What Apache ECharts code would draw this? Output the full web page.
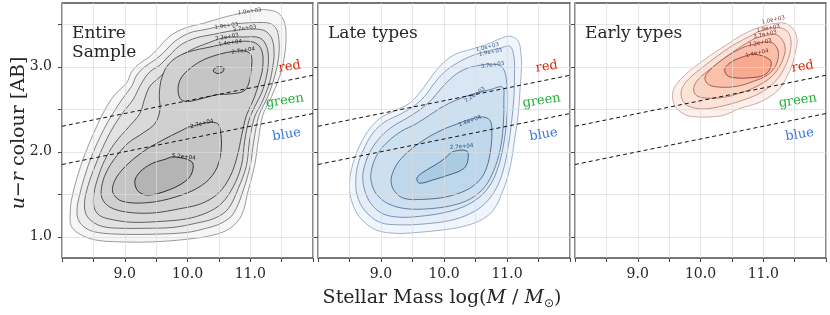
<!DOCTYPE html>
<html><head><meta charset="utf-8">
<script src="https://cdn.jsdelivr.net/npm/echarts@6/dist/echarts.min.js"></script>
<style>html,body{margin:0;padding:0;background:#fff}#c{width:830px;height:315px}</style>
</head><body><div id="c"></div>
<script>
// ---------- axes / ticks ----------
const xTickLabels = [9, 10, 11];
const yTickLabels = [1, 2, 3];
const yGridValues = [1, 1.5, 2, 2.5, 3, 3.5];
const panelTitles = ['Entire\nSample', 'Late types', 'Early types'];

// ---------- colour-zone dividing lines ----------
const dividerX = [8, 12];
const upperDivider = [2.30, 2.90];
const lowerDivider = [1.85, 2.45];
const zoneNames = ['red', 'green', 'blue'];
const zoneX = [11.63, 11.55, 11.58];
const zoneY = [3.0, 2.6, 2.2];

// ---------- contour levels ----------
const levelNames = ['1.0e+03', '1.9e+03', '3.7e+03', '7.2e+03', '1.4e+04', '2.7e+04', '5.2e+04'];

// ---------- Entire sample contours ----------
const entireL1 = [[8.84,2.67],[9.03,2.81],[9.11,2.94],[9.24,3.04],[9.40,3.12],[9.51,3.20],[9.72,3.36],[9.98,3.46],[10.25,3.51],[10.52,3.57],[10.73,3.61],[11.05,3.66],[11.26,3.67],[11.45,3.63],[11.55,3.51],[11.57,3.32],[11.54,3.10],[11.47,2.89],[11.34,2.65],[11.20,2.43],[11.13,2.14],[11.07,1.84],[10.97,1.55],[10.86,1.25],[10.68,1.10],[10.41,1.02],[9.98,0.97],[9.45,0.94],[8.92,0.94],[8.55,0.96],[8.31,1.02],[8.15,1.12],[8.13,1.27],[8.15,1.43],[8.23,1.67],[8.37,1.98],[8.53,2.26],[8.68,2.49]];
const entireL2 = [[8.97,2.63],[9.11,2.77],[9.19,2.90],[9.32,3.00],[9.48,3.08],[9.61,3.16],[9.80,3.30],[10.04,3.40],[10.30,3.44],[10.54,3.48],[10.84,3.51],[11.10,3.52],[11.31,3.51],[11.42,3.44],[11.46,3.28],[11.45,3.10],[11.39,2.89],[11.28,2.65],[11.14,2.43],[11.06,2.14],[11.00,1.84],[10.89,1.55],[10.73,1.27],[10.54,1.16],[10.30,1.10],[9.98,1.05],[9.45,1.03],[8.92,1.03],[8.57,1.05],[8.38,1.10],[8.26,1.20],[8.24,1.33],[8.28,1.49],[8.36,1.71],[8.49,1.98],[8.65,2.24],[8.81,2.45]];
const entireL3 = [[9.13,2.61],[9.27,2.81],[9.40,2.94],[9.56,3.02],[9.72,3.14],[9.90,3.26],[10.14,3.34],[10.41,3.38],[10.68,3.42],[10.94,3.44],[11.21,3.43],[11.34,3.34],[11.38,3.16],[11.35,2.96],[11.29,2.77],[11.18,2.57],[11.07,2.41],[10.99,2.14],[10.94,1.84],[10.81,1.57],[10.65,1.33],[10.44,1.22],[10.14,1.16],[9.77,1.11],[9.35,1.10],[8.92,1.10],[8.65,1.12],[8.48,1.18],[8.38,1.27],[8.36,1.41],[8.41,1.59],[8.52,1.82],[8.68,2.10],[8.84,2.32],[9.00,2.49]];
const entireL4 = [[9.32,2.63],[9.40,2.77],[9.56,2.88],[9.69,2.98],[9.85,3.10],[10.06,3.20],[10.33,3.28],[10.57,3.34],[10.89,3.35],[11.15,3.34],[11.26,3.24],[11.29,3.08],[11.26,2.89],[11.18,2.69],[11.07,2.53],[10.98,2.37],[10.91,2.12],[10.86,1.84],[10.73,1.59],[10.54,1.39],[10.30,1.28],[9.98,1.21],[9.56,1.18],[9.13,1.17],[8.81,1.20],[8.60,1.25],[8.51,1.35],[8.51,1.51],[8.57,1.69],[8.68,1.90],[8.84,2.10],[9.05,2.28],[9.24,2.45]];
const entireL5 = [[9.55,2.67],[9.59,2.87],[9.71,3.04],[9.96,3.16],[10.41,3.24],[10.73,3.29],[11.05,3.29],[11.18,3.20],[11.20,3.00],[11.14,2.81],[11.05,2.61],[10.94,2.43],[10.86,2.18],[10.79,1.94],[10.68,1.71],[10.49,1.51],[10.22,1.39],[9.88,1.33],[9.45,1.28],[9.03,1.29],[8.76,1.35],[8.64,1.45],[8.63,1.58],[8.70,1.75],[8.84,1.92],[9.05,2.10],[9.29,2.22],[9.48,2.33],[9.56,2.49]];
const entireL6a = [[9.88,2.63],[9.85,2.75],[9.90,2.87],[10.04,2.98],[10.25,3.08],[10.52,3.15],[10.73,3.18],[10.94,3.18],[11.02,3.12],[11.01,2.94],[10.97,2.79],[10.89,2.71],[10.68,2.68],[10.46,2.67],[10.20,2.62],[9.98,2.59]];
const entireL6b = [[10.06,2.30],[10.46,2.34],[10.53,2.22],[10.53,1.98],[10.44,1.77],[10.22,1.60],[9.82,1.47],[9.35,1.40],[8.95,1.42],[8.81,1.52],[8.84,1.66],[9.00,1.82],[9.29,2.00],[9.61,2.14],[9.88,2.24]];
const entireL7a = [[10.41,2.95],[10.45,2.99],[10.53,3.00],[10.58,2.98],[10.56,2.94],[10.49,2.92],[10.44,2.93]];
const entireL7b = [[9.78,1.94],[10.07,1.88],[10.07,1.75],[9.96,1.65],[9.70,1.55],[9.38,1.49],[9.22,1.53],[9.16,1.65],[9.24,1.76],[9.43,1.86],[9.64,1.91]];
const entireContours = [[0, entireL1],[1, entireL2],[2, entireL3],[3, entireL4],[4, entireL5],[5, entireL6a],[5, entireL6b],[6, entireL7a],[6, entireL7b]];
const entireLabelLevels = [0, 1, 2, 3, 4, 5, 5, 6];
const entireLabelPos = [[10.99,3.65],[10.62,3.48],[10.91,3.45],[10.63,3.35],[10.68,3.28],[10.89,3.19],[10.23,2.33],[9.94,1.94]];

// ---------- Late types contours ----------
const lateL1 = [[11.05,3.36],[11.18,3.30],[11.22,3.16],[11.23,3.00],[11.21,2.77],[11.18,2.45],[11.12,2.14],[11.05,1.82],[10.94,1.55],[10.78,1.31],[10.57,1.19],[10.30,1.12],[9.98,1.08],[9.56,1.05],[9.24,1.04],[8.92,1.08],[8.66,1.23],[8.53,1.43],[8.50,1.63],[8.54,1.82],[8.63,2.02],[8.79,2.24],[8.98,2.39],[9.24,2.49],[9.45,2.57],[9.61,2.69],[9.75,2.83],[9.88,2.96],[10.04,3.08],[10.22,3.16],[10.41,3.20],[10.67,3.26],[10.89,3.33]];
const lateL2 = [[11.05,3.24],[11.11,3.12],[11.12,2.92],[11.11,2.65],[11.07,2.33],[11.02,2.06],[10.94,1.78],[10.83,1.57],[10.65,1.39],[10.41,1.27],[10.09,1.19],[9.67,1.15],[9.30,1.14],[8.98,1.17],[8.74,1.31],[8.62,1.49],[8.60,1.67],[8.63,1.84],[8.72,2.02],[8.87,2.22],[9.06,2.35],[9.30,2.44],[9.51,2.53],[9.69,2.65],[9.85,2.81],[10.01,2.94],[10.20,3.04],[10.41,3.12],[10.67,3.18],[10.89,3.22]];
const lateL3 = [[10.83,3.03],[10.94,2.98],[10.99,2.85],[11.01,2.61],[10.99,2.33],[10.94,2.06],[10.86,1.82],[10.75,1.63],[10.57,1.47],[10.30,1.35],[9.98,1.28],[9.61,1.24],[9.30,1.23],[9.03,1.27],[8.84,1.39],[8.74,1.55],[8.71,1.71],[8.75,1.86],[8.84,2.02],[9.00,2.18],[9.19,2.30],[9.40,2.39],[9.61,2.49],[9.80,2.61],[9.96,2.75],[10.12,2.87],[10.30,2.96],[10.51,3.01]];
const lateL4 = [[10.46,2.68],[10.73,2.73],[10.93,2.76],[10.95,2.61],[10.94,2.30],[10.89,2.02],[10.79,1.78],[10.65,1.59],[10.43,1.45],[10.14,1.37],[9.77,1.33],[9.40,1.33],[9.11,1.39],[8.92,1.51],[8.84,1.67],[8.86,1.82],[8.95,1.98],[9.11,2.12],[9.32,2.24],[9.56,2.33],[9.77,2.43],[9.98,2.53],[10.20,2.61]];
const lateL5 = [[10.36,2.37],[10.59,2.41],[10.73,2.37],[10.76,2.22],[10.74,2.02],[10.68,1.82],[10.57,1.67],[10.36,1.55],[10.04,1.47],[9.67,1.44],[9.37,1.45],[9.22,1.53],[9.16,1.65],[9.20,1.78],[9.32,1.92],[9.53,2.06],[9.77,2.18],[10.04,2.28],[10.22,2.33]];
const lateL6 = [[10.14,2.00],[10.36,2.01],[10.38,1.90],[10.31,1.80],[10.09,1.73],[9.83,1.67],[9.61,1.63],[9.57,1.69],[9.67,1.76],[9.85,1.84],[10.01,1.92]];
const lateContours = [[0, lateL1],[1, lateL2],[2, lateL3],[3, lateL4],[4, lateL5],[5, lateL6]];
const lateLabelLevels = [0, 1, 2, 3, 4, 5];
const lateLabelPos = [[10.69,3.23],[10.74,3.17],[10.77,3.02],[10.49,2.67],[10.41,2.36],[10.28,2.06]];

// ---------- Early types contours ----------
const earlyL1 = [[11.35,3.51],[11.48,3.44],[11.54,3.32],[11.51,3.16],[11.46,3.02],[11.38,2.89],[11.27,2.75],[11.11,2.65],[10.90,2.57],[10.63,2.51],[10.37,2.43],[10.15,2.41],[9.94,2.41],[9.78,2.43],[9.62,2.51],[9.56,2.61],[9.57,2.73],[9.68,2.85],[9.84,2.96],[10.02,3.06],[10.21,3.16],[10.42,3.26],[10.63,3.36],[10.85,3.44],[11.06,3.49],[11.19,3.51]];
const earlyL2 = [[11.24,3.46],[11.38,3.42],[11.44,3.32],[11.43,3.18],[11.37,3.04],[11.27,2.90],[11.14,2.79],[10.95,2.69],[10.69,2.61],[10.42,2.55],[10.15,2.51],[9.94,2.51],[9.78,2.55],[9.70,2.63],[9.70,2.73],[9.78,2.83],[9.94,2.94],[10.15,3.06],[10.37,3.18],[10.58,3.28],[10.79,3.36],[10.95,3.42]];
const earlyL3 = [[11.19,3.38],[11.30,3.32],[11.35,3.22],[11.32,3.10],[11.24,2.98],[11.11,2.87],[10.90,2.77],[10.63,2.69],[10.37,2.64],[10.10,2.63],[9.94,2.66],[9.89,2.73],[9.94,2.83],[10.10,2.94],[10.31,3.06],[10.53,3.18],[10.74,3.28],[10.90,3.34]];
const earlyL4 = [[11.11,3.29],[11.22,3.22],[11.24,3.12],[11.19,3.00],[11.06,2.90],[10.85,2.83],[10.58,2.77],[10.31,2.76],[10.13,2.79],[10.07,2.87],[10.15,2.96],[10.34,3.08],[10.55,3.18],[10.77,3.25]];
const earlyL5 = [[11.11,3.08],[11.11,2.98],[11.01,2.90],[10.79,2.87],[10.55,2.87],[10.42,2.90],[10.39,2.98],[10.50,3.06],[10.69,3.12],[10.85,3.15]];
const earlyContours = [[0, earlyL1],[1, earlyL2],[2, earlyL3],[3, earlyL4],[4, earlyL5]];
const earlyLabelLevels = [0, 1, 2, 3, 4];
const earlyLabelPos = [[11.16,3.55],[11.08,3.45],[11.03,3.38],[10.95,3.28],[10.90,3.16]];

// ---------- styles ----------
const greyFill = ['#f6f6f6','#ececec','#e2e2e2','#d9d9d9','#d0d0d0','#c5c5c5','#b4b4b4'];
const greyLine = ['#8a8a8a','#707070','#5a5a5a','#474747','#363636','#262626','#151515'];
const greyText = ['#444','#3a3a3a','#333','#2a2a2a','#222','#1a1a1a','#111'];
const blueFill = ['#f1f6fc','#e5eef8','#d9e7f4','#cde0f0','#bed7eb','#a9cce3'];
const blueLine = ['#8ea7c6','#7891b5','#637fa6','#506e97','#3e5e88','#2b4e79'];
const blueText = ['#3e5e88','#3a5a84','#365680','#32527c','#2e4e78','#2a4a74'];
const redFill = ['#fdf0ea','#fde2d6','#fcd3c1','#fbc0aa','#f8aa90'];
const redLine = ['#c89c9c','#b98282','#a96868','#974e4e','#843636'];
const redText = ['#8a3030','#862c2c','#822828','#7e2424','#7a2020'];
const entireLabelRot = [8, 8, 8, 10, 8, 8, 15, -6];
const lateLabelRot = [14, 10, 8, 35, 20, 5];
const earlyLabelRot = [12, 12, 12, 12, 12];
const zoneColors = ['#d42a0c', '#1fae3a', '#3b78e0'];
const serif = 'DejaVu Serif';

const grids = [
  {left: 62, top: 3, width: 251, height: 255},
  {left: 318, top: 3, width: 252, height: 255},
  {left: 575, top: 3, width: 251, height: 255}
].map(g => Object.assign(g, {show: true, borderColor: '#4a4a4a', borderWidth: 1.3, backgroundColor: 'transparent'}));

const gridLineStyle = {color: '#dcdcdc', width: 1, opacity: 0.7};

function xAxisFor(i) {
  return {
    gridIndex: i, type: 'value', min: 8, max: 12, interval: 0.5, z: 3,
    axisLine: {show: false},
    axisTick: {show: true, length: 4, lineStyle: {color: '#4a4a4a'}},
    splitLine: {show: true, lineStyle: gridLineStyle},
    axisLabel: {show: true, margin: 9, color: '#262626', fontFamily: serif, fontSize: 14,
      formatter: v => xTickLabels.indexOf(Math.round(v * 100) / 100) >= 0 ? v.toFixed(1) : ''}
  };
}
function yAxisFor(i) {
  return {
    gridIndex: i, type: 'value', min: 0.75, max: 3.75, z: 3,
    axisLine: {show: false},
    axisTick: {show: true, length: 4, customValues: yGridValues, lineStyle: {color: '#4a4a4a'}},
    splitLine: {show: true, lineStyle: gridLineStyle},
    axisLabel: {show: i === 0, customValues: yTickLabels, margin: 10, color: '#262626',
      fontFamily: serif, fontSize: 14, formatter: v => v.toFixed(1)}
  };
}

function contourSeries(i, list, fills, lines) {
  return {
    type: 'custom', xAxisIndex: i, yAxisIndex: i, z: 2, silent: true, clip: true,
    data: list.map((c, k) => [c[1][0][0], c[1][0][1], k]),
    encode: {x: 0, y: 1},
    renderItem: function (params, api) {
      const c = list[api.value(2)];
      const pts = c[1].map(p => api.coord(p));
      return {type: 'polygon', shape: {points: pts, smooth: 0.35},
        style: {fill: fills[c[0]], stroke: lines[c[0]], lineWidth: 0.85}};
    }
  };
}
function contourLabelSeries(i, pos, levels, rots, texts) {
  return {
    type: 'custom', xAxisIndex: i, yAxisIndex: i, z: 4, silent: true,
    data: pos.map((p, k) => [p[0], p[1], k]),
    encode: {x: 0, y: 1},
    renderItem: function (params, api) {
      const k = api.value(2);
      const pt = api.coord([api.value(0), api.value(1)]);
      return {type: 'text', x: pt[0], y: pt[1], rotation: rots[k] * Math.PI / 180,
        style: {text: levelNames[levels[k]], fill: texts[levels[k]], fontSize: 5.5,
          fontFamily: 'DejaVu Sans', align: 'center', verticalAlign: 'middle'}};
    }
  };
}
function dividerSeries(i, vals) {
  return {
    type: 'line', xAxisIndex: i, yAxisIndex: i, z: 5, silent: true, symbol: 'none',
    data: dividerX.map((x, k) => [x, vals[k]]),
    lineStyle: {color: '#111', width: 1, type: [4, 3]}
  };
}
function zoneSeries(i) {
  return {
    type: 'custom', xAxisIndex: i, yAxisIndex: i, z: 6, silent: true,
    data: zoneNames.map((n, k) => [zoneX[k], zoneY[k], k]),
    encode: {x: 0, y: 1},
    renderItem: function (params, api) {
      const k = api.value(2);
      const pt = api.coord([api.value(0), api.value(1)]);
      return {type: 'text', x: pt[0], y: pt[1], rotation: 9 * Math.PI / 180,
        style: {text: zoneNames[k], fill: zoneColors[k], fontSize: 13, fontFamily: serif,
          align: 'center', verticalAlign: 'middle'}};
    }
  };
}

const series = [
  contourSeries(0, entireContours, greyFill, greyLine),
  contourSeries(1, lateContours, blueFill, blueLine),
  contourSeries(2, earlyContours, redFill, redLine),
  contourLabelSeries(0, entireLabelPos, entireLabelLevels, entireLabelRot, greyText),
  contourLabelSeries(1, lateLabelPos, lateLabelLevels, lateLabelRot, blueText),
  contourLabelSeries(2, earlyLabelPos, earlyLabelLevels, earlyLabelRot, redText)
];
for (let i = 0; i < 3; i++) {
  series.push(dividerSeries(i, upperDivider), dividerSeries(i, lowerDivider), zoneSeries(i));
}

const titleX = [72, 328, 585];
const graphic = panelTitles.map((t, i) => ({
  type: 'text', left: titleX[i], top: 24, z: 10,
  style: {text: t, fill: '#262626', fontSize: 17, fontFamily: serif, lineHeight: 19}
}));
graphic.push({
  type: 'text', x: 19, y: 133, rotation: Math.PI / 2, z: 10,
  style: {text: '{i|u}{n|−}{i|r}{n| colour [AB]}', align: 'center', verticalAlign: 'middle',
    fontSize: 19, fontFamily: serif, fill: '#262626',
    rich: {i: {fontSize: 19, fontFamily: serif, fontStyle: 'italic', fill: '#262626'},
           n: {fontSize: 19, fontFamily: serif, fill: '#262626'}}}
});
graphic.push({
  type: 'text', x: 442, y: 298, z: 10,
  style: {text: '{n|Stellar Mass log(}{i|M}{n| / }{i|M}{s|⊙}{n|)}', align: 'center', verticalAlign: 'middle',
    fontSize: 19, fontFamily: serif, fill: '#262626',
    rich: {i: {fontSize: 19, fontFamily: serif, fontStyle: 'italic', fill: '#262626'},
           n: {fontSize: 19, fontFamily: serif, fill: '#262626'},
           s: {fontSize: 12, fontFamily: 'DejaVu Sans', fill: '#262626', padding: [12, 0, 0, 0]}}}
});

const chart = echarts.init(document.getElementById('c'), null, {renderer: 'canvas'});
chart.setOption({
  animation: false,
  backgroundColor: '#ffffff',
  grid: grids,
  xAxis: [0, 1, 2].map(xAxisFor),
  yAxis: [0, 1, 2].map(yAxisFor),
  series: series,
  graphic: graphic
});
</script>
</body></html>
